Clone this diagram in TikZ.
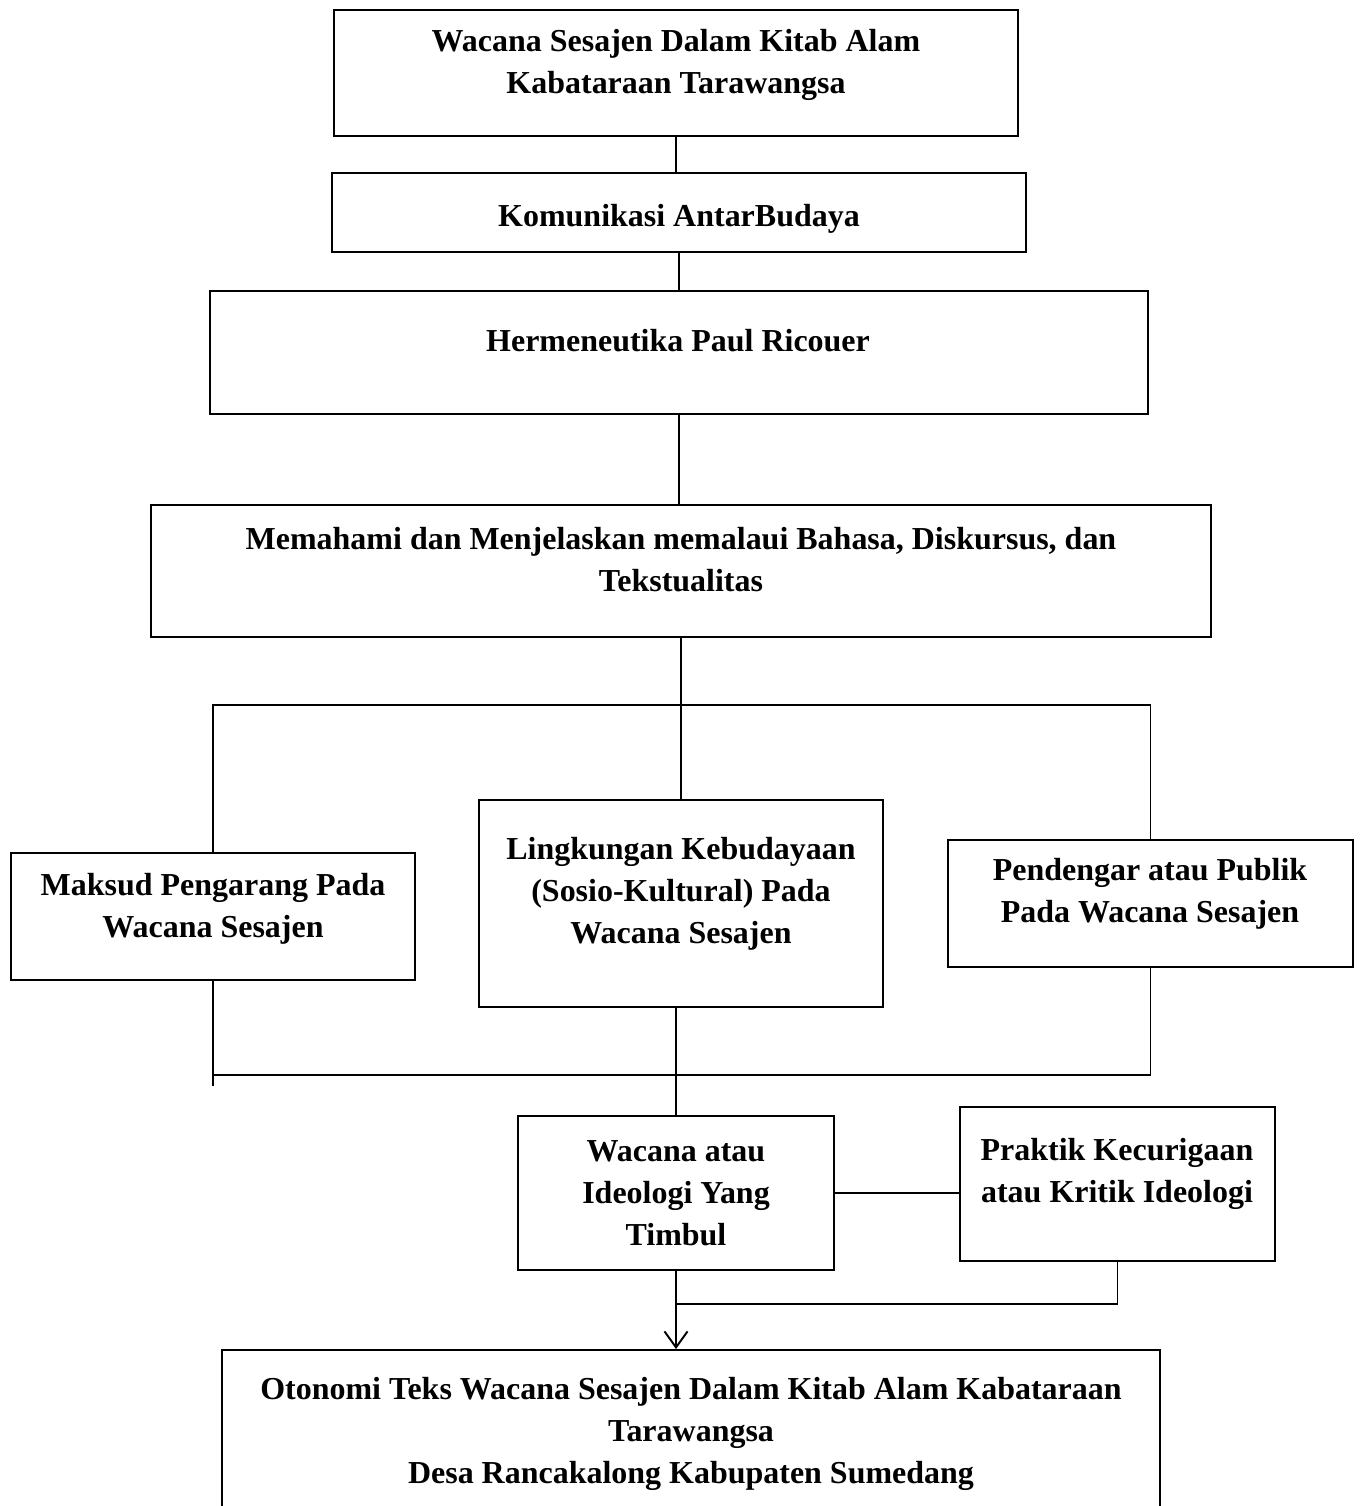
\documentclass[tikz,border=0pt]{standalone}
\usepackage{fontspec}
\setmainfont{Liberation Serif}
\usetikzlibrary{arrows.meta}

\tikzset{
    kotak/.style={draw, line width=1.1pt, rectangle, inner sep=0pt},
    teks/.style={align=center, font=\fontsize{18.2}{23.9}\selectfont\bfseries, inner sep=0pt},
    garis/.style={line width=1.1pt}
}

\begin{document}
\begin{tikzpicture}[x=0.02cm, y=-0.02cm, >={Straight Barb[length=0.32cm,width=0.46cm]}]
                \useasboundingbox (0,0) rectangle (1359,1506);

                % Kotak
                \node[kotak, minimum width=13.68cm, minimum height=2.52cm] (b1) at (676,73) {};
                \node[kotak, minimum width=13.88cm, minimum height=1.58cm] (b2) at (679,212.5) {};
                \node[kotak, minimum width=18.76cm, minimum height=2.46cm] (b3) at (679,352.5) {};
                \node[kotak, minimum width=21.2cm, minimum height=2.64cm] (b4) at (681,571) {};
                \node[kotak, minimum width=8.08cm, minimum height=2.54cm] (b5) at (213,916.5) {};
                \node[kotak, minimum width=8.08cm, minimum height=4.14cm] (b6) at (681,903.5) {};
                \node[kotak, minimum width=8.1cm, minimum height=2.54cm] (b7) at (1150.5,903.5) {};
                \node[kotak, minimum width=6.32cm, minimum height=3.08cm] (b8) at (676,1193) {};
                \node[kotak, minimum width=6.3cm, minimum height=3.08cm] (b9) at (1117.5,1184) {};
                \node[kotak, minimum width=18.76cm, minimum height=3.4cm] (b10) at (691,1435) {};

                % Teks
                \node[teks] (t1) at (676,65) {Wacana Sesajen Dalam Kitab Alam\\Kabataraan Tarawangsa};
                \node[teks] (t2) at (679,219) {Komunikasi AntarBudaya};
                \node[teks] (t3) at (678,341) {Hermeneutika Paul Ricouer};
                \node[teks] (t4) at (681,560) {Memahami dan Menjelaskan memalaui Bahasa, Diskursus, dan\\Tekstualitas};
                \node[teks] (t5) at (213,909) {Maksud Pengarang Pada\\Wacana Sesajen};
                \node[teks] (t6) at (681,894) {Lingkungan Kebudayaan\\(Sosio-Kultural) Pada\\Wacana Sesajen};
                \node[teks] (t7) at (1150,894) {Pendengar atau Publik\\Pada Wacana Sesajen};
                \node[teks] (t8) at (676,1193) {Wacana atau\\Ideologi Yang\\Timbul};
                \node[teks] (t9) at (1117,1174) {Praktik Kecurigaan\\atau Kritik Ideologi};
                \node[teks] (t10) at (691,1434) {Otonomi Teks Wacana Sesajen Dalam Kitab Alam Kabataraan\\Tarawangsa\\Desa Rancakalong Kabupaten Sumedang};

                % Garis
                \coordinate (cabang) at (681,705);
                \coordinate (gabung) at (676,1075);
                \coordinate (temu) at (676,1304);

                \draw[garis] (b1.south) -- (b1.south |- b2.north);
                \draw[garis] (b2.south) -- (b2.south |- b3.north);
                \draw[garis] (b3.south) -- (b3.south |- b4.north);
                \draw[garis] (b4.south) -- (b6.north);
                \draw[garis] (b5.north) |- (cabang) -| (b7.north);

                \draw[garis] (b5.south) -- ++(0,105);
                \draw[garis] (b5.south |- gabung) -- (b7.south |- gabung) -- (b7.south);
                \draw[garis] (b8.north |- b6.south) -- (b8.north);
                \draw[garis] (b8.east) -- (b8.east -| b9.west);

                \draw[garis, ->] (b8.south) -- (b8.south |- b10.north);
                \draw[garis] (temu) -| (b9.south);
            \end{tikzpicture}
\end{document}
